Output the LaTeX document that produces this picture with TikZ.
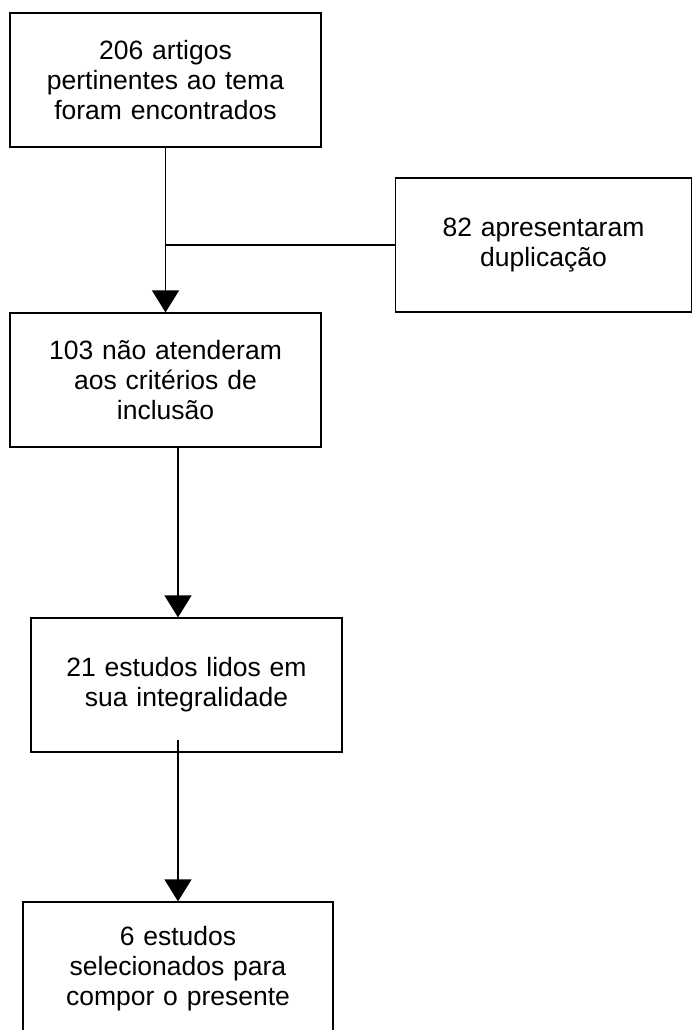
\documentclass[tikz,border=0pt]{standalone}
\usepackage{fontspec}
\setmainfont{Liberation Sans}
\usetikzlibrary{arrows.meta}

\begin{document}
\begin{tikzpicture}[x=1pt, y=-1pt,
	caixa/.style={draw, line width=1.2pt, inner sep=0pt, text width=296pt, align=center,
		minimum width=311pt, minimum height=134pt, font=\fontsize{26.5}{30}\selectfont},
	seta/.style={line width=1.2pt, -{Triangle[width=27pt, length=22pt]}}]
	\useasboundingbox (0,0) rectangle (692,1030);

	%caixas
	\node (topo) at (165.5, 80) [caixa]{206 artigos\\pertinentes ao tema\\foram encontrados};
	\node (dupl) at (543.5, 245) [caixa, minimum width=296pt, text width=280pt]{82 apresentaram\\duplicação};
	\node (excl) at (165.5, 380) [caixa]{103 não atenderam\\aos critérios de\\inclusão};
	\node (integ) at (186.5, 685) [caixa]{21 estudos lidos em\\sua integralidade};
	\node (final) at (178, 969) [caixa, minimum width=310pt]{6 estudos\\selecionados para\\compor o presente};

	%ligacoes
	\coordinate (eixo) at (178, 0);
	\draw[seta] (topo.south) -- (excl.north);
	\draw[line width=1.2pt] (dupl.west) -- (topo.south |- dupl.west);
	\draw[seta] (eixo |- excl.south) -- (eixo |- integ.north);
	\draw[seta] ([yshift=13pt]eixo |- integ.south) -- (eixo |- final.north);
\end{tikzpicture}
\end{document}
